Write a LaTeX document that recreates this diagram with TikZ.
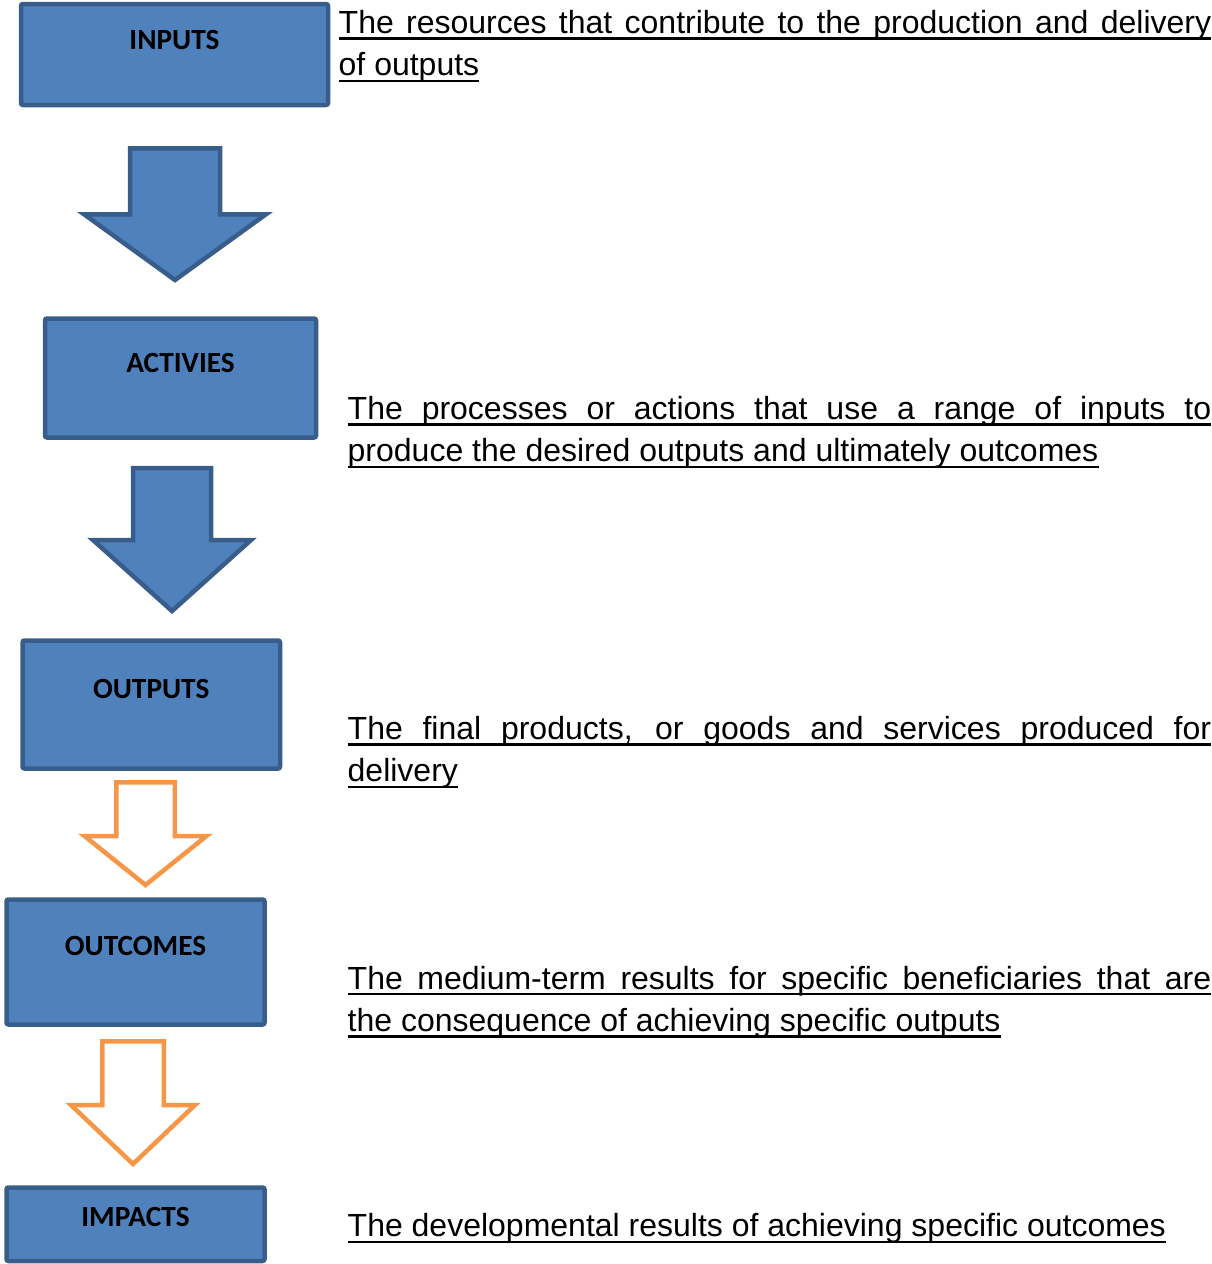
\documentclass[tikz,border=0pt]{standalone}
\usepackage{fontspec}
\setmainfont{Liberation Sans}
\newfontfamily\calibri{Carlito}
\definecolor{boxfill}{HTML}{4F81BD}
\definecolor{boxline}{HTML}{385D8A}
\definecolor{hollowline}{HTML}{F79646}
\tikzset{
	stage/.style 2 args={rectangle, draw=boxline, fill=boxfill, line width=4.5pt, rounded corners=2pt, anchor=north west, outer sep=0pt, inner xsep=0pt, inner ysep=0pt, text height=#1, text depth=#2, font=\calibri\bfseries\fontsize{29.3}{35}\selectfont},
	blurb/.style={anchor=base west, inner sep=0pt, font=\fontsize{32}{42.3}\selectfont},
	rule/.style={line width=2.3pt},
	solidarrow/.style={draw=boxline, fill=boxfill, line width=4.5pt, miter limit=10},
	hollowarrow/.style={draw=hollowline, fill=white, line width=4.5pt, miter limit=10}
}
\def\blockarrow[#1](#2)(#3:#4:#5:#6:#7){\draw[#1] ({#2-#6},#3) -- ({#2+#6},#3) -- ({#2+#6},#4) -- ({#2+#7},#4) -- (#2,#5) -- ({#2-#7},#4) -- ({#2-#6},#4) -- cycle;}

\begin{document}
\begin{tikzpicture}[x=1pt, y=-1pt]
			%%%%% START %%%%%
			\useasboundingbox (0, 0) rectangle (1211, 1264);
			
			\node[stage={45.3pt}{55.7pt}, minimum width=307pt] (inputs) at (21, 4) {INPUTS};
			\node[stage={53.5pt}{65.5pt}, minimum width=271pt] (activies) at (45, 318.5) {ACTIVIES};
			\node[stage={57.8pt}{70.2pt}, minimum width=257.5pt] (outputs) at (22.5, 640.5) {OUTPUTS};
			\node[stage={56.2pt}{68.8pt}, minimum width=258pt] (outcomes) at (6.5, 899.5) {OUTCOMES};
			\node[stage={39.2pt}{34.3pt}, minimum width=258pt] (impacts) at (6.5, 1187.5) {IMPACTS};
			
			\blockarrow[solidarrow](175)(148.25:214.25:280:45:91)
			\blockarrow[solidarrow](172)(468:540:611:39:79)
			\blockarrow[hollowarrow](145.5)(782.25:836:885:29.25:61)
			\blockarrow[hollowarrow](133)(1041.25:1105:1164:30.75:62)
			
			% notes, one node per line
			\node[blurb] (inputsA) at (338.5, 33.3) {\makebox[872.5pt][s]{The resources that contribute to the production and delivery}};
			\node[blurb] (inputsB) at (338.5, 75.6) {of outputs};
			\node[blurb] (activiesA) at (347.5, 419.3) {\makebox[863.5pt][s]{The processes or actions that use a range of inputs to}};
			\node[blurb] (activiesB) at (347.5, 461.6) {produce the desired outputs and ultimately outcomes};
			\node[blurb] (outputsA) at (347.5, 739.3) {\makebox[863.5pt][s]{The final products, or goods and services produced for}};
			\node[blurb] (outputsB) at (347.5, 781.6) {delivery};
			\node[blurb] (outcomesA) at (347.5, 989) {\makebox[863.5pt][s]{The medium-term results for specific beneficiaries that are}};
			\node[blurb] (outcomesB) at (347.5, 1031.3) {the consequence of achieving specific outputs};
			\node[blurb] (impactsA) at (347.5, 1236.7) {The developmental results of achieving specific outcomes};
			
			\foreach \n in {inputsA, inputsB, activiesA, activiesB, outputsA, outputsB, outcomesA, outcomesB, impactsA}
				\draw[rule] ([yshift=-5.3pt]\n.base west) -- ([yshift=-5.3pt]\n.base east);
			
			%%%%% END %%%%%
\end{tikzpicture}
\end{document}
